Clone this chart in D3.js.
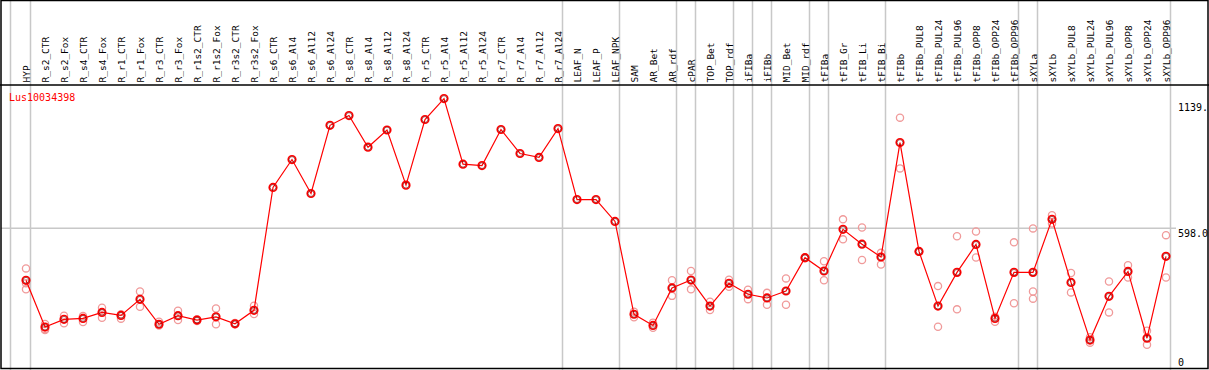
<!DOCTYPE html>
<html>
<head>
<meta charset="utf-8">
<script src="https://cdn.jsdelivr.net/npm/d3@7"></script>
<style>
  body { margin: 0; background: #fff; }
  svg { display: block; }
  text { font-family: "DejaVu Sans Mono", monospace; }
</style>
</head>
<body>
<svg id="chart"></svg>
<script>
// categories (column headers)
var categories = ["HYP", "R_s2_CTR", "R_s2_Fox", "R_s4_CTR", "R_s4_Fox", "R_r1_CTR", "R_r1_Fox",
  "R_r3_CTR", "R_r3_Fox", "R_r1s2_CTR", "R_r1s2_Fox", "R_r3s2_CTR", "R_r3s2_Fox",
  "R_s6_CTR", "R_s6_Al4", "R_s6_Al12", "R_s6_Al24", "R_s8_CTR", "R_s8_Al4", "R_s8_Al12", "R_s8_Al24",
  "R_r5_CTR", "R_r5_Al4", "R_r5_Al12", "R_r5_Al24", "R_r7_CTR", "R_r7_Al4", "R_r7_Al12", "R_r7_Al24",
  "LEAF_N", "LEAF_P", "LEAF_NPK", "SAM", "AR_Bet", "AR_rdf", "cPAR", "TOP_Bet", "TOP_rdf",
  "iFIBa", "iFIBb", "MID_Bet", "MID_rdf", "tFIBa", "tFIB_Gr", "tFIB_Li", "tFIB_Bi", "tFIBb",
  "tFIBb_PUL8", "tFIBb_PUL24", "tFIBb_PUL96", "tFIBb_OPP8", "tFIBb_OPP24", "tFIBb_OPP96",
  "sXYLa", "sXYLb", "sXYLb_PUL8", "sXYLb_PUL24", "sXYLb_PUL96", "sXYLb_OPP8", "sXYLb_OPP24", "sXYLb_OPP96"];

// mean expression per category
var means = [374, 173, 206, 210, 236, 223, 292, 185, 222, 203, 217, 187, 245,
  773, 893, 747, 1040, 1082, 946, 1020, 783, 1065, 1155, 873, 867, 1022, 919, 902, 1026,
  721, 721, 627, 228, 180, 341, 375, 263, 361, 314, 298, 328, 471, 414, 593, 529, 474, 966,
  498, 263, 408, 528, 210, 408, 408, 636, 365, 117, 305, 412, 125, 477];

// replicate values per category
var replicates = [[425, 361, 335], [186, 164, 160], [222, 189], [220, 195], [256, 213], [228, 209],
  [326, 260], [196, 180], [243, 203], [206, 199], [253, 185], [190, 185], [265, 229],
  [], [], [], [], [], [], [], [], [], [], [], [], [], [], [], [], [], [], [],
  [239, 215], [192, 170], [374, 307], [414, 335], [282, 246], [376, 346], [333, 293], [320, 269],
  [382, 269], [472, 469], [456, 374], [636, 550], [601, 461], [492, 442], [1073, 855],
  [499, 497], [349, 174], [563, 249], [584, 472], [217, 196], [537, 275], [597, 326, 295],
  [654, 618], [405, 322], [129, 106], [369, 236], [439, 386], [157, 97], [568, 386]];

// last category of each column group
var groupEnds = ["HYP", "R_r7_Al24", "LEAF_NPK", "AR_rdf", "cPAR", "TOP_rdf", "iFIBa", "iFIBb",
  "MID_rdf", "tFIBa", "tFIB_Bi", "tFIBb_OPP96", "sXYLa", "sXYLb_OPP96"];

// y axis labels
var yTicks = [{v: 1139, label: "1139."}, {v: 598, label: "598.0"}, {v: 0, label: "0"}];
var geneName = "Lus10034398";

var fullWidth = 1209;
var fullHeight = 370;
var headerBottom = 85;

var svg = d3.select("#chart")
  .attr("width", fullWidth)
  .attr("height", fullHeight);

var xScale = d3.scalePoint()
  .domain(categories)
  .range([26, 1166]);

var yScale = d3.scaleLinear()
  .domain([0, 1139])
  .range([367.3, 102.3]);

var step = xScale.step();

// group separators (full height)
svg.append("line")
  .attr("x1", xScale(categories[0]) - 15.5).attr("x2", xScale(categories[0]) - 15.5)
  .attr("y1", 0).attr("y2", fullHeight)
  .attr("stroke", "#c8c8c8").attr("stroke-width", 1.5);

svg.selectAll(".sep")
  .data(groupEnds)
  .enter().append("line")
  .attr("class", "sep")
  .attr("x1", function(d) { return xScale(d) + 4.5; })
  .attr("x2", function(d) { return xScale(d) + 4.5; })
  .attr("y1", 0).attr("y2", fullHeight)
  .attr("stroke", "#c8c8c8").attr("stroke-width", 1.5);

// horizontal grid line at the middle tick
svg.append("line")
  .attr("x1", 1).attr("x2", 1176)
  .attr("y1", yScale(598)).attr("y2", yScale(598))
  .attr("stroke", "#c8c8c8").attr("stroke-width", 1.5);

// frame
svg.append("rect")
  .attr("x", 1).attr("y", 0.5)
  .attr("width", fullWidth - 2).attr("height", fullHeight - 2)
  .attr("fill", "none").attr("stroke", "#000").attr("stroke-width", 1.5);

svg.append("line")
  .attr("x1", 0).attr("x2", fullWidth)
  .attr("y1", headerBottom).attr("y2", headerBottom)
  .attr("stroke", "#000").attr("stroke-width", 1.5);

// column headers, rotated
svg.selectAll(".colLabel")
  .data(categories)
  .enter().append("text")
  .attr("class", "colLabel")
  .attr("transform", function(d) {
    return "translate(" + (xScale(d) + 3.5) + "," + 82.5 + ") rotate(-90)";
  })
  .attr("text-anchor", "start")
  .attr("font-size", "9.5px")
  .attr("fill", "#000")
  .text(function(d) { return d; });

// y labels on the right
svg.selectAll(".yLabel")
  .data(yTicks)
  .enter().append("text")
  .attr("class", "yLabel")
  .attr("x", 1178)
  .attr("y", function(d) { return d.v === 0 ? 366 : yScale(d.v) + 8.5; })
  .attr("font-size", "10px")
  .attr("fill", "#000")
  .text(function(d) { return d.label; });

// gene name
svg.append("text")
  .attr("x", 9)
  .attr("y", 101)
  .attr("font-size", "10px")
  .attr("fill", "#ff0000")
  .text(geneName);

// replicate points
var repPoints = [];
replicates.forEach(function(list, i) {
  list.forEach(function(v) { repPoints.push({c: categories[i], v: v}); });
});

svg.selectAll(".rep")
  .data(repPoints)
  .enter().append("circle")
  .attr("class", "rep")
  .attr("cx", function(d) { return xScale(d.c); })
  .attr("cy", function(d) { return yScale(d.v); })
  .attr("r", 3.6)
  .attr("fill", "none")
  .attr("stroke", "#f09a9a")
  .attr("stroke-width", 1.3);

// mean line
var line = d3.line()
  .x(function(d, i) { return xScale(categories[i]); })
  .y(function(d) { return yScale(d); });

svg.append("path")
  .datum(means)
  .attr("d", line)
  .attr("fill", "none")
  .attr("stroke", "#ff0000")
  .attr("stroke-width", 1.2);

// mean points
svg.selectAll(".mean")
  .data(means)
  .enter().append("circle")
  .attr("class", "mean")
  .attr("cx", function(d, i) { return xScale(categories[i]); })
  .attr("cy", function(d) { return yScale(d); })
  .attr("r", 3.8)
  .attr("fill", "none")
  .attr("stroke", "#ff0000")
  .attr("stroke-width", 1.6);

svg.selectAll(".meanIn")
  .data(means)
  .enter().append("circle")
  .attr("class", "meanIn")
  .attr("cx", function(d, i) { return xScale(categories[i]); })
  .attr("cy", function(d) { return yScale(d); })
  .attr("r", 2.9)
  .attr("fill", "none")
  .attr("stroke", "#700000")
  .attr("stroke-width", 0.6);
</script>
</body>
</html>
